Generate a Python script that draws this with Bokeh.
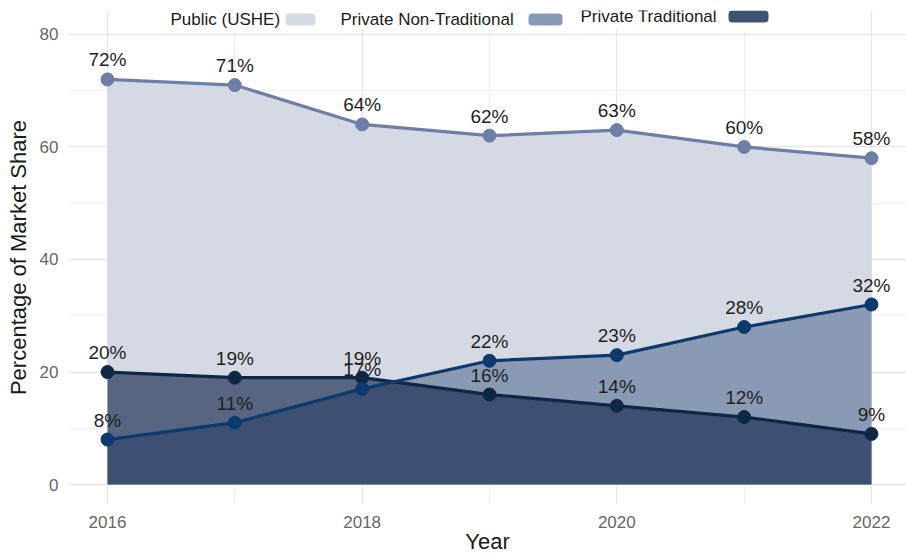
from bokeh.plotting import figure
from bokeh.models import Range1d, FixedTicker, ColumnDataSource
from bokeh.core.properties import value
from bokeh.embed import file_html
from bokeh.resources import INLINE

# ---- data ----
years = [2016, 2017, 2018, 2019, 2020, 2021, 2022]
public_ushe = [72, 71, 64, 62, 63, 60, 58]
private_nontrad = [8, 11, 17, 22, 23, 28, 32]
private_trad = [20, 19, 19, 16, 14, 12, 9]
x_ticks = [2016, 2018, 2020, 2022]
x_minor = [2017, 2019, 2021]
y_ticks = [0, 20, 40, 60, 80]
y_minor = [10, 30, 50, 70]
legend_labels = ["Public (USHE)", "Private Non-Traditional", "Private Traditional"]

# ---- styles ----
FONT = "Liberation Sans"
C_PUB_AREA = "#d5d9e3"
C_PUB_LINE = "#6e7ea6"
C_NT_AREA = "#8a9ab4"
C_NT_LINE = "#0c3a6c"
C_TR_AREA = "#1a2e53"
C_TR_ALPHA = 0.68
C_TR_LINE = "#0d2744"

W, H = 906, 556
BL, BR, BT, BB = 68, 0, 10, 50
PX_PER_YEAR = 127.33
PX_PER_UNIT = 5.65
X0 = 2016 - (107 - BL) / PX_PER_YEAR
X1 = X0 + (W - BL - BR) / PX_PER_YEAR
Y1 = 80 + (34 - BT) / PX_PER_UNIT
frame_h = H - BT - BB
Y0 = Y1 - frame_h / PX_PER_UNIT

p = figure(width=W, height=H, output_backend="svg", toolbar_location=None,
           x_range=Range1d(X0, X1), y_range=Range1d(Y0, Y1),
           min_border_left=BL, min_border_right=BR, min_border_top=BT, min_border_bottom=BB)
p.outline_line_color = None
p.background_fill_color = "white"

# pixel helpers for legend placement (canvas px -> data)
def px_x(px):
    return X0 + (px - BL) / PX_PER_YEAR
def px_y(py):
    return Y1 - (py - BT) / PX_PER_UNIT

# axes
p.xaxis.ticker = FixedTicker(ticks=x_ticks, minor_ticks=x_minor)
p.yaxis.ticker = FixedTicker(ticks=y_ticks, minor_ticks=y_minor)
for ax in (p.xaxis[0], p.yaxis[0]):
    ax.axis_line_color = None
    ax.major_tick_line_color = None
    ax.minor_tick_line_color = None
    ax.major_label_text_font = FONT
    ax.major_label_text_font_size = "17px"
    ax.major_label_text_color = "#666666"
    ax.axis_label_text_font = FONT
    ax.axis_label_text_font_size = "22px"
    ax.axis_label_text_font_style = "normal"
    ax.axis_label_text_color = "#1a1a1a"
p.xaxis.axis_label = "Year"
p.yaxis.axis_label = "Percentage of Market Share"
p.xaxis.major_label_standoff = 5
p.xaxis.axis_label_standoff = -2
p.yaxis.major_label_standoff = 4
p.yaxis.axis_label_standoff = 6

# grids
for g in (p.xgrid[0], p.ygrid[0]):
    g.grid_line_color = "#e6e6e6"
    g.grid_line_width = 1.3
    g.minor_grid_line_color = "#efefef"
    g.minor_grid_line_width = 1

# areas
p.varea(x=years, y1=[0] * len(years), y2=public_ushe, fill_color=C_PUB_AREA)
p.varea(x=years, y1=[0] * len(years), y2=private_nontrad, fill_color=C_NT_AREA)
p.varea(x=years, y1=[0] * len(years), y2=private_trad, fill_color=C_TR_AREA, fill_alpha=C_TR_ALPHA)

# lines + points
for vals, col in ((public_ushe, C_PUB_LINE), (private_trad, C_TR_LINE), (private_nontrad, C_NT_LINE)):
    p.line(x=years, y=vals, line_color=col, line_width=3.2)
    p.scatter(x=years, y=vals, size=13, fill_color=col, line_color=col)

# value labels
for vals in (public_ushe, private_trad, private_nontrad):
    src = ColumnDataSource(dict(x=years, y=vals, t=[f"{v}%" for v in vals]))
    p.text(x="x", y="y", text="t", source=src, text_align="center", text_baseline="bottom",
           y_offset=-9, text_font=value(FONT), text_font_size="19px", text_color="#1f1f1f")

# legend (label then key), on a white box
p.quad(left=px_x(160), right=px_x(785), bottom=px_y(28), top=px_y(0),
       fill_color="white", line_color=None)
leg_text_px = [(170, 19), (340, 19), (580, 16)]
leg_key_px = [(285, 315, 13, 25), (528, 562, 13, 25), (728, 768, 10, 22)]
leg_cols = [C_PUB_AREA, C_NT_AREA, "#3e5272"]
for lab, (tx, ty), (l, r, t, b), col in zip(legend_labels, leg_text_px, leg_key_px, leg_cols):
    p.text(x=[px_x(tx)], y=[px_y(ty)], text=[lab], text_align="left", text_baseline="middle",
           text_font=value(FONT), text_font_size="17px", text_color="#1a1a1a")
    p.quad(left=[px_x(l)], right=[px_x(r)], top=[px_y(t)], bottom=[px_y(b)],
           fill_color=col, line_color=None, border_radius=4)

open("out.html", "w").write(file_html(p, INLINE))
